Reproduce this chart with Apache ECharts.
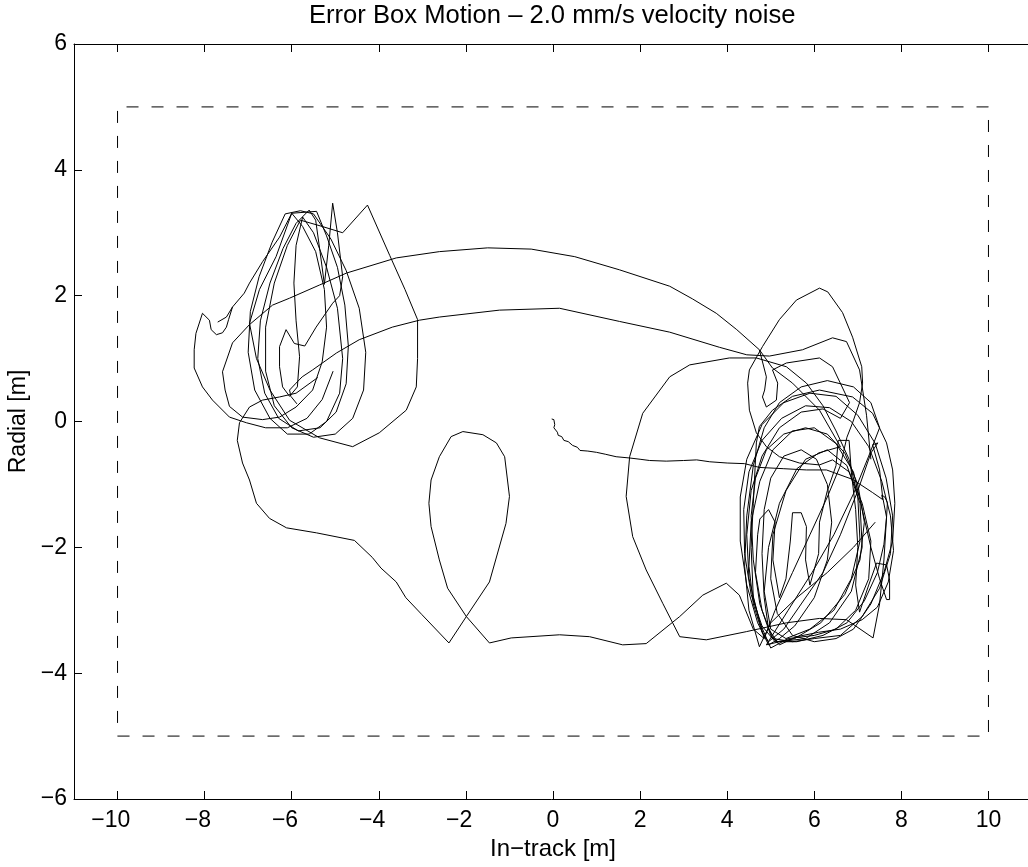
<!DOCTYPE html>
<html>
<head>
<meta charset="utf-8">
<script src="https://cdn.jsdelivr.net/npm/echarts@6/dist/echarts.min.js"></script>
<style>
html,body{margin:0;padding:0;background:#fff;}
#chart{width:1028px;height:867px;}
</style>
</head>
<body>
<div id="chart"></div>
<script>
// ---- tick labels ----
const xTicks = [-10,-8,-6,-4,-2,0,2,4,6,8,10];
const yTicks = [-6,-4,-2,0,2,4,6];

// ---- error box (dashed) ----
const errorBox = [[-10,-5],[10,-5],[10,5],[-10,5],[-10,-5]];

// ---- trajectory pieces (In-track [m], Radial [m]) ----
const startDrift = [[-0.03,0.04],[0.02,0.03],[-0.01,0.0],[0.04,-0.05],[0.02,-0.1],[0.06,-0.13],[0.1,-0.17],[0.12,-0.22],[0.2,-0.24],[0.25,-0.3],[0.35,-0.32],[0.45,-0.38],[0.56,-0.41],[0.62,-0.46],[0.8,-0.47],[1.0,-0.49],[1.2,-0.52],[1.45,-0.56],[1.76,-0.58],[2.0,-0.6],[2.22,-0.62],[2.6,-0.63],[3.0,-0.62],[3.3,-0.61],[3.6,-0.64],[4.0,-0.66],[4.4,-0.67],[4.74,-0.73],[5.3,-0.75],[5.82,-0.77],[6.28,-0.77],[6.88,-0.92],[7.34,-1.13],[7.57,-1.24],[7.55,-1.17],[7.62,-1.2]];

const rightLoopsA = [[7.62,-1.2],[7.68,-1.29],[7.66,-1.52],[7.6,-1.95],[7.45,-2.4],[7.15,-2.85],[6.75,-3.2],[6.2,-3.4],[5.6,-3.5],[5.1,-3.5],[4.8,-3.25],[4.55,-2.75],[4.4,-2.1],[4.38,-1.4],[4.5,-0.8],[4.8,-0.3],[5.25,0.05],[5.8,0.25],[6.35,0.22],[6.85,0.0],[7.25,-0.4],[7.55,-0.95],[7.75,-1.5],[7.82,-2.05],[7.7,-2.55],[7.45,-2.95],[7.1,-3.15],[6.6,-3.3],[6.1,-3.35],[5.6,-3.42],[5.2,-3.55],[5.0,-3.4],[4.75,-2.9],[4.6,-2.2],[4.55,-1.5],[4.65,-0.9],[4.9,-0.45],[5.3,-0.2],[5.8,-0.1],[6.3,-0.2],[6.7,-0.5],[7.0,-1.0],[7.15,-1.6],[7.05,-2.2],[6.7,-2.75],[6.15,-3.2],[5.55,-3.45],[5.15,-3.5],[4.95,-3.3],[4.85,-2.8],[4.8,-2.1],[4.85,-1.4],[5.0,-0.9],[5.3,-0.55],[5.7,-0.45],[6.05,-0.6],[6.3,-1.0],[6.4,-1.6],[6.3,-2.2],[6.0,-2.8],[5.55,-3.25],[5.2,-3.45],[4.95,-3.55],[4.7,-3.2],[4.45,-2.6],[4.3,-1.9],[4.3,-1.2],[4.45,-0.6],[4.8,-0.05],[5.3,0.3],[5.9,0.45],[6.5,0.4],[7.0,0.1],[7.4,-0.35],[7.65,-0.9],[7.8,-1.5],[7.75,-2.1],[7.5,-2.65],[7.1,-3.1],[6.6,-3.4],[6.0,-3.45],[5.5,-3.5],[5.05,-3.45],[4.8,-3.0],[4.65,-2.4],[4.7,-1.8],[4.75,-1.55],[4.95,-1.4],[5.1,-1.6],[5.05,-2.2],[5.2,-2.8],[5.35,-2.5],[5.45,-1.9],[5.5,-1.45],[5.7,-1.45],[5.82,-1.67],[5.8,-2.2],[5.9,-2.6],[6.1,-2.1],[6.12,-1.6],[6.3,-1.1],[6.5,-0.7],[6.55,-0.3],[6.8,-0.3],[6.85,-0.8],[6.95,-1.4],[7.0,-2.0],[6.95,-2.6],[7.04,-3.03],[7.25,-2.6],[7.43,-2.25],[7.66,-2.28],[7.73,-2.52],[7.73,-2.83],[7.66,-2.83],[7.5,-2.5],[7.3,-2.0],[7.1,-1.4],[6.9,-0.8],[6.5,-0.35],[6.0,-0.1],[5.5,-0.15],[5.05,-0.45],[4.75,-0.95],[4.55,-1.6],[4.5,-2.3],[4.6,-2.9],[4.8,-3.35],[4.95,-3.5],[5.3,-3.3],[5.7,-2.9],[6.2,-2.4],[6.6,-1.8],[7.0,-1.1],[7.3,-0.5],[7.46,-0.34],[7.34,-0.37],[7.5,-0.77],[7.57,-1.2],[7.66,-1.52],[7.6,-2.2],[7.5,-2.9],[7.35,-3.44]];

const rightLoopsB = [[4.85,-3.45],[4.6,-2.8],[4.55,-2.0],[4.6,-1.3],[4.67,-0.34],[4.74,-0.08],[5.04,0.18],[5.5,0.4],[6.12,0.5],[6.88,0.39],[7.34,0.13],[7.66,-0.34],[7.8,-0.77],[7.85,-1.3],[7.8,-1.9],[7.6,-2.4],[7.3,-2.9],[6.9,-3.3],[6.5,-3.45],[6.0,-3.5],[5.5,-3.4],[5.15,-3.05],[5.0,-2.5],[5.05,-1.8],[5.35,-1.1],[5.8,-0.6],[6.3,-0.45],[6.75,-0.7],[7.05,-1.3],[7.1,-2.0],[6.85,-2.7],[6.35,-3.2],[5.8,-3.45],[5.2,-3.5],[4.9,-3.55],[5.4,-3.0],[5.95,-2.4],[6.45,-1.8],[6.9,-1.15],[7.25,-0.55],[7.5,-0.1],[7.3,0.3],[6.9,0.55],[6.3,0.65],[5.7,0.55],[5.2,0.3],[4.85,-0.1],[4.6,-0.7],[4.45,-1.5],[4.4,-2.3],[4.5,-3.0],[4.74,-3.58],[5.0,-3.2],[5.6,-2.8],[6.3,-2.4],[6.9,-2.0],[7.4,-1.6]];

const bigLoop = [[7.35,-3.44],[6.74,-3.15],[6.12,-3.13],[5.36,-3.2],[4.44,-3.34],[3.52,-3.47],[2.91,-3.42],[2.52,-2.89],[2.14,-2.36],[1.83,-1.83],[1.68,-1.19],[1.76,-0.56],[2.06,0.13],[2.68,0.71],[3.14,0.9],[4.05,1.01],[4.67,1.01],[5.36,0.87],[5.82,0.61],[6.2,0.25],[6.5,-0.15],[6.8,-0.6],[7.0,-1.2],[7.05,-1.9],[6.85,-2.5],[6.45,-3.0],[5.9,-3.3],[5.35,-3.45],[5.0,-3.3],[4.85,-2.7],[4.95,-2.0],[5.2,-1.3],[5.6,-0.75],[6.1,-0.5],[6.6,-0.4]];

const upperArc = [[6.6,-0.4],[6.12,0.18],[5.5,0.61],[5.04,0.85],[4.74,1.14],[4.22,1.46],[3.75,1.72],[3.2,1.95],[2.68,2.15],[1.53,2.41],[0.5,2.62],[-0.5,2.74],[-1.5,2.76],[-2.61,2.7],[-3.6,2.6],[-4.74,2.36],[-5.36,2.17],[-6.05,1.96],[-6.44,1.85],[-6.97,1.54],[-7.36,1.25],[-7.59,0.79],[-7.53,0.5],[-7.43,0.24],[-7.13,0.07],[-6.67,0.03],[-6.28,0.07],[-5.9,0.23],[-5.52,0.5]];

const leftLoops = [[-5.52,0.5],[-5.3,0.95],[-5.2,1.5],[-5.25,2.1],[-5.45,2.7],[-5.75,3.1],[-6.0,3.31],[-5.43,3.34],[-5.2,2.95],[-4.95,2.45],[-4.78,1.85],[-4.7,1.2],[-4.75,0.6],[-4.98,0.15],[-5.35,-0.1],[-5.85,-0.15],[-6.3,0.05],[-6.62,0.45],[-6.78,1.0],[-6.72,1.6],[-6.5,2.2],[-6.2,2.75],[-5.9,3.15],[-5.6,3.36],[-5.45,3.2],[-5.35,2.7],[-5.25,2.18],[-5.15,2.8],[-5.06,3.47],[-4.95,3.0],[-4.83,2.3],[-4.9,2.0],[-5.06,1.88],[-5.44,1.5],[-5.7,1.2],[-5.94,1.24],[-6.13,1.46],[-6.28,1.19],[-6.28,0.87],[-6.21,0.55],[-6.05,0.4],[-5.87,0.55],[-5.82,1.03],[-5.9,1.6],[-5.95,2.2],[-5.9,2.8],[-5.75,3.25],[-5.5,3.0],[-5.2,2.45],[-4.95,1.8],[-4.83,1.0],[-4.9,0.45],[-5.2,0.0],[-5.6,-0.2],[-6.1,-0.2],[-6.5,0.05],[-6.85,0.5],[-7.0,1.1],[-6.95,1.75],[-6.75,2.3],[-6.45,2.85],[-6.15,3.3],[-5.8,3.35],[-5.5,3.3],[-5.1,2.9],[-4.75,2.4],[-4.45,1.8],[-4.3,1.1],[-4.35,0.5],[-4.6,0.05],[-5.0,-0.2],[-5.5,-0.25],[-6.0,-0.1],[-6.4,0.25],[-6.6,0.8],[-6.6,1.5],[-6.4,2.2],[-6.1,2.8],[-5.8,3.2],[-5.3,3.1],[-4.83,3.0],[-4.26,3.44],[-3.75,2.64],[-3.4,2.1],[-3.11,1.62],[-3.11,1.0],[-3.14,0.55],[-3.37,0.18],[-3.99,-0.18],[-4.6,-0.4],[-5.36,-0.26],[-6.05,0.02],[-6.5,0.5],[-6.81,1.0],[-6.97,1.56],[-6.74,2.1],[-6.36,2.62],[-6.0,3.31]];

const leftEdge = [[-5.05,0.8],[-5.3,0.35],[-5.65,0.05],[-6.1,-0.1],[-6.6,-0.1],[-7.04,-0.02],[-7.43,0.07],[-7.82,0.34],[-8.05,0.55],[-8.24,0.85],[-8.24,1.14],[-8.2,1.4],[-8.05,1.72],[-7.89,1.61],[-7.85,1.46],[-7.73,1.38],[-7.59,1.41],[-7.5,1.5],[-7.45,1.62],[-7.36,1.82],[-7.09,2.04],[-6.97,2.2],[-6.67,2.54],[-6.28,2.93],[-6.0,3.31]];
const leftHook = [[-7.7,1.58],[-7.5,1.66],[-7.36,1.82]];

const bottomPath = [[-5.4,0.7],[-5.9,0.45],[-6.28,0.39],[-6.67,0.34],[-6.97,0.23],[-7.2,-0.02],[-7.25,-0.3],[-7.13,-0.66],[-6.97,-0.93],[-6.81,-1.3],[-6.51,-1.54],[-6.12,-1.69],[-5.43,-1.77],[-4.56,-1.89],[-4.15,-2.16],[-3.95,-2.33],[-3.6,-2.55],[-3.38,-2.8],[-3.01,-3.07],[-2.39,-3.52],[-1.99,-3.1],[-1.46,-2.55],[-1.08,-1.62],[-1.0,-1.19],[-1.11,-0.56],[-1.3,-0.34],[-1.61,-0.21],[-2.07,-0.16],[-2.34,-0.24],[-2.61,-0.56],[-2.8,-0.93],[-2.85,-1.3],[-2.8,-1.67],[-2.61,-2.2],[-2.42,-2.65],[-1.99,-3.1],[-1.46,-3.52],[-0.96,-3.44],[0.15,-3.39],[0.84,-3.42],[1.6,-3.55],[2.14,-3.53],[2.91,-3.1],[3.44,-2.76],[3.98,-2.57],[4.28,-2.76],[4.6,-3.3],[4.85,-3.45],[5.1,-3.0],[5.5,-2.4],[5.9,-1.8],[6.3,-1.2],[6.6,-0.7],[6.75,-0.25],[6.88,-0.02],[7.04,0.3],[7.11,0.61],[7.09,0.87],[6.88,1.34],[6.65,1.73],[6.31,2.06],[6.12,2.12],[5.59,1.93],[5.2,1.62],[4.81,1.19],[4.51,0.82],[4.47,0.61],[4.51,0.18],[4.67,-0.18],[4.9,-0.4],[5.2,-0.56],[5.66,-0.66],[6.12,-0.69],[6.42,-0.61],[6.8,-0.8],[7.1,-1.3],[7.3,-1.9],[7.25,-2.5],[6.95,-3.0],[6.5,-3.3],[6.0,-3.4],[5.4,-3.45],[5.0,-3.6],[4.75,-3.2],[4.5,-2.5],[4.45,-1.8],[4.55,-1.1],[4.8,-0.55],[5.2,-0.1],[5.7,0.15],[6.2,0.2],[6.6,0.05],[6.81,0.3],[6.42,0.87],[6.12,1.01],[5.36,0.93],[5.04,0.82],[5.16,0.61],[5.13,0.34],[4.9,0.23],[4.81,0.39],[4.86,0.5],[4.9,0.71],[4.74,1.14]];

const secondArc = [[7.3,-0.6],[7.2,0.1],[7.04,0.82],[6.74,1.27],[6.42,1.33],[5.73,1.14],[4.97,1.04],[4.45,1.06],[3.82,1.18],[2.68,1.42],[1.53,1.59],[0.15,1.8],[-1.23,1.77],[-2.61,1.66],[-3.07,1.61],[-3.69,1.5],[-4.45,1.3],[-4.97,1.09],[-5.52,0.82],[-5.76,0.71],[-5.9,0.61],[-6.05,0.5],[-6.02,0.4],[-5.88,0.28]];

const pieces = [startDrift, rightLoopsA, rightLoopsB, bigLoop, upperArc, leftLoops, leftEdge, leftHook, bottomPath, secondArc];

// ---- chart ----
const FONT = 'Liberation Sans, Arial, Helvetica, sans-serif';
const axisLineStyle = { show: true, onZero: false, lineStyle: { color: '#000', width: 1 } };
// x labels: digits centred on the tick, minus sign hanging to the left (phantom minus on the right)
const fmtX = v => (v < 0 ? '{n|\u2212' + Math.abs(v) + '}{g|\u2212}' : '{n|' + v + '}');
const fmtY = v => (v < 0 ? '\u2212' + Math.abs(v) : String(v));

const chart = echarts.init(document.getElementById('chart'), null, { renderer: 'canvas' });

const series = pieces.map(p => ({
  type: 'line', data: p, showSymbol: false, symbol: 'none',
  lineStyle: { color: '#000', width: 1 }, animation: false, silent: true,
  xAxisIndex: 0, yAxisIndex: 0
}));
series.push({
  type: 'line', data: errorBox, showSymbol: false, symbol: 'none',
  lineStyle: { color: '#000', width: 1, type: [12, 13] }, animation: false, silent: true,
  xAxisIndex: 0, yAxisIndex: 0
});

chart.setOption({
  backgroundColor: '#fff',
  animation: false,
  title: {
    text: 'Error Box Motion \u2013 2.0 mm/s velocity noise',
    left: 309, top: 3, padding: 0,
    textStyle: { fontFamily: FONT, fontSize: 25.6, fontWeight: 'normal', color: '#000' }
  },
  grid: { left: 74, top: 44, width: 958, height: 755, containLabel: false, outerBoundsMode: 'none' },
  xAxis: [{
    type: 'value', min: -11, max: 11, position: 'bottom',
    name: 'In\u2212track [m]', nameLocation: 'middle', nameGap: 38,
    nameTextStyle: { fontFamily: FONT, fontSize: 24, color: '#000' },
    axisLine: axisLineStyle,
    axisTick: { show: true, inside: true, length: 8, customValues: xTicks, lineStyle: { color: '#000' } },
    axisLabel: {
      show: true, customValues: xTicks, formatter: fmtX, margin: 10,
      fontFamily: FONT, fontSize: 23, color: '#000',
      rich: {
        n: { fontFamily: FONT, fontSize: 23, color: '#000' },
        g: { fontFamily: FONT, fontSize: 23, color: 'rgba(0,0,0,0)' }
      }
    },
    splitLine: { show: false }
  }, {
    type: 'value', min: -11, max: 11, position: 'top',
    axisLine: axisLineStyle,
    axisTick: { show: true, inside: true, length: 8, customValues: xTicks, lineStyle: { color: '#000' } },
    axisLabel: { show: false },
    splitLine: { show: false }
  }],
  yAxis: [{
    type: 'value', min: -6, max: 6, interval: 2, position: 'left',
    name: 'Radial [m]', nameLocation: 'middle', nameGap: 44, nameRotate: 90,
    nameTextStyle: { fontFamily: FONT, fontSize: 23, color: '#000' },
    axisLine: axisLineStyle,
    axisTick: { show: true, inside: true, length: 8, lineStyle: { color: '#000' } },
    axisLabel: { show: true, formatter: fmtY, margin: 7, padding: [6, 0, 0, 0], fontFamily: FONT, fontSize: 23, color: '#000' },
    splitLine: { show: false }
  }, {
    type: 'value', min: -6, max: 6, interval: 2, position: 'right', show: false
  }],
  series: series
});
</script>
</body>
</html>
